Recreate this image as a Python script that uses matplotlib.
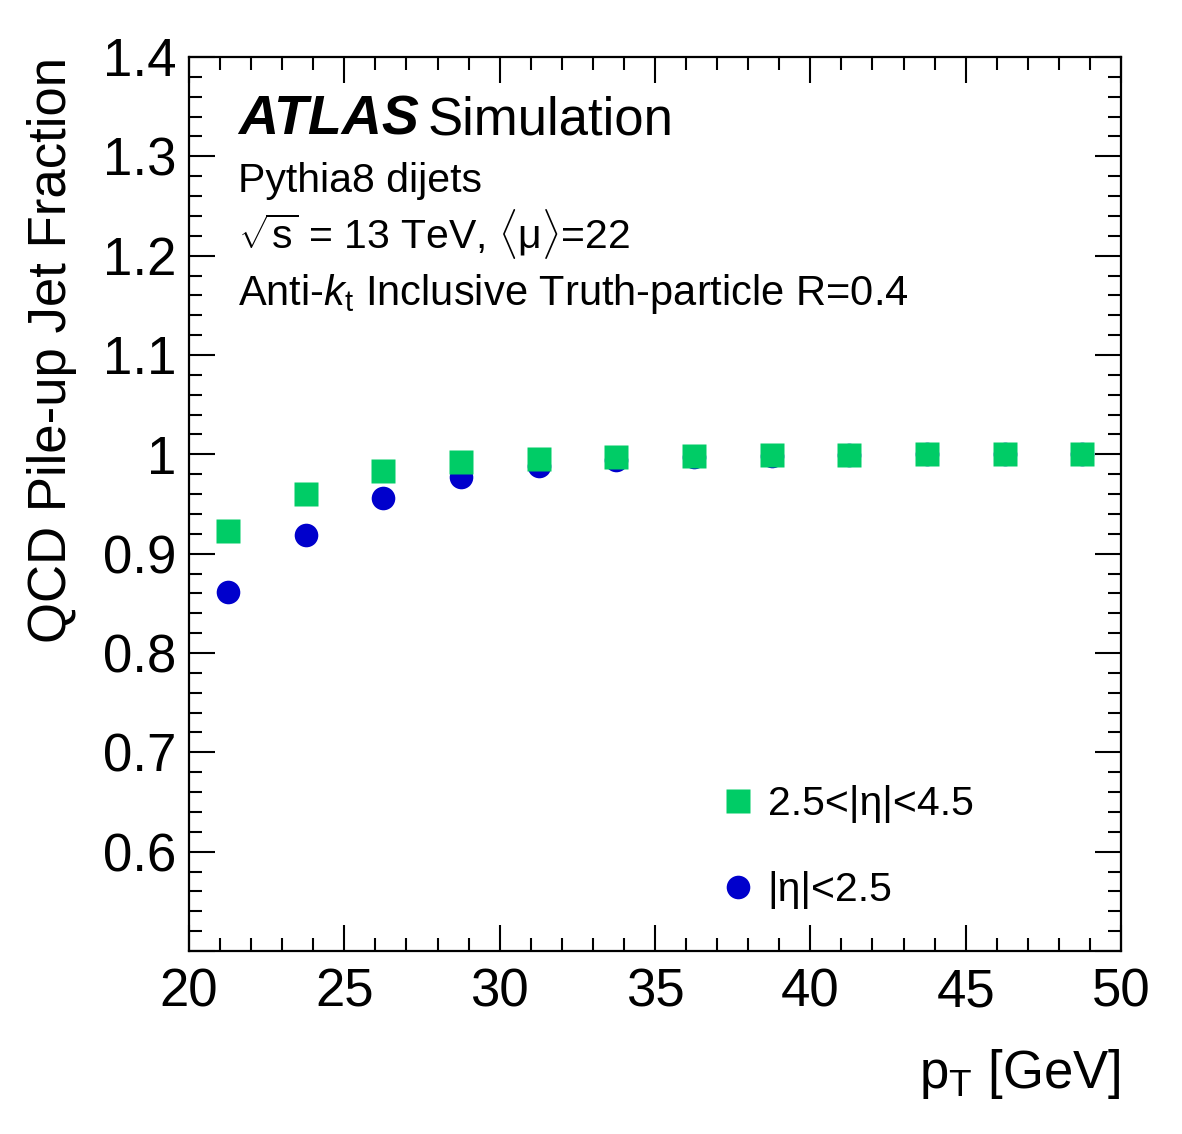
import matplotlib
matplotlib.use("Agg")
import matplotlib.pyplot as plt
from matplotlib.ticker import MultipleLocator, FuncFormatter
from matplotlib.lines import Line2D

plt.rcParams["font.family"] = ["Liberation Sans", "DejaVu Sans"]
plt.rcParams["mathtext.fontset"] = "custom"
plt.rcParams["mathtext.rm"] = "Liberation Sans"
plt.rcParams["mathtext.it"] = "Liberation Sans:italic"
plt.rcParams["mathtext.bf"] = "Liberation Sans:bold"

# data
pt = [21.25, 23.75, 26.25, 28.75, 31.25, 33.75, 36.25, 38.75, 41.25, 43.75, 46.25, 48.75]
frac_fwd = [0.923, 0.960, 0.983, 0.992, 0.9955, 0.9974, 0.9983, 0.999, 0.9996, 1.0, 1.0, 1.0]
frac_ctr = [0.861, 0.919, 0.956, 0.977, 0.988, 0.994, 0.997, 0.998, 0.999, 1.0, 1.0, 1.0]
lab_fwd = "2.5<|η|<4.5"
lab_ctr = "|η|<2.5"
green = "#00cc66"
blue = "#0000cc"

fig = plt.figure(figsize=(11.82, 11.34), dpi=100)
ax = fig.add_axes([189/1182, 1-951/1134, (1121-189)/1182, (951-57)/1134])

ax.plot(pt, frac_ctr, "o", ms=17, color=blue, mec="none", zorder=3)
ax.plot(pt, frac_fwd, "s", ms=17, color=green, mec="none", zorder=4)

ax.set_xlim(20, 50)
ax.set_ylim(0.5, 1.4)
ax.xaxis.set_major_locator(MultipleLocator(5))
ax.xaxis.set_minor_locator(MultipleLocator(1))
ax.yaxis.set_major_locator(MultipleLocator(0.1))
ax.yaxis.set_minor_locator(MultipleLocator(0.02))
ax.yaxis.set_major_formatter(FuncFormatter(lambda v, p: "" if abs(v-0.5) < 1e-6 else "%g" % round(v, 2)))
ax.tick_params(which="both", direction="in", top=True, right=True, width=1.5, labelsize=38)
ax.tick_params(which="major", length=19)
ax.tick_params(which="minor", length=9.5)
ax.tick_params(axis="x", pad=12)
ax.tick_params(axis="y", pad=9)
for s in ax.spines.values():
    s.set_linewidth(1.6)

fig.text(52/1182, 1-57/1134, "QCD Pile-up Jet Fraction", rotation=90, ha="center", va="top", fontsize=38)
fig.text(1121/1182, 1-1088/1134, r"p$_{\mathrm{T}}$ [GeV]", ha="right", va="baseline", fontsize=38)

ax.text(0.0526, 0.9128, "ATLAS", transform=ax.transAxes, fontsize=40, fontweight="bold", style="italic", va="baseline")
ax.text(0.2564, 0.9128, "Simulation", transform=ax.transAxes, fontsize=38, va="baseline")
ax.text(0.0526, 0.849, "Pythia8 dijets", transform=ax.transAxes, fontsize=29.5, va="baseline")
ax.text(0.0526, 0.786, r"$\sqrt{\mathrm{s}}$ = 13 TeV, $\langle$μ$\rangle$=22", transform=ax.transAxes, fontsize=29.5, va="baseline")
ax.text(0.0526, 0.7226, r"Anti-$k_{\mathrm{t}}$ Inclusive Truth-particle R=0.4", transform=ax.transAxes, fontsize=30, va="baseline")

handles = [Line2D([], [], ls="none", marker="s", ms=17, color=green, mec="none"),
           Line2D([], [], ls="none", marker="o", ms=17, color=blue, mec="none")]
ax.legend(handles, [lab_fwd, lab_ctr], loc="upper left", bbox_to_anchor=(0.5676, 0.1857),
          frameon=False, fontsize=29.5, handlelength=1.0, handletextpad=0.21,
          labelspacing=1.18, borderpad=0, borderaxespad=0)

fig.savefig("out.png", dpi=100)
